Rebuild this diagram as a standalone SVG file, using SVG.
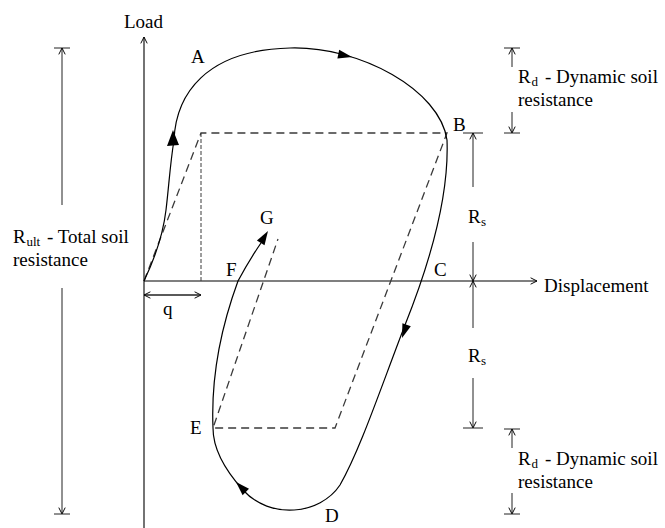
<svg xmlns="http://www.w3.org/2000/svg" width="665" height="528" viewBox="0 0 665 528">
<style>
text{font-family:"Liberation Serif","Times New Roman",serif;font-size:19px;fill:#000}
text.sub{font-size:13px}
.ax{stroke:#000;stroke-width:1.1;fill:none}
.dim{stroke:#222;stroke-width:1;fill:none}
.dash{stroke:#3a3a3a;stroke-width:1.3;fill:none;stroke-dasharray:8 5}
.fdash{stroke:#3a3a3a;stroke-width:1;fill:none;stroke-dasharray:4 2}
.curve{stroke:#000;stroke-width:1.2;fill:none}
.ah{fill:#000}
</style>
<defs>
<marker id="open" viewBox="0 0 10 10" refX="9" refY="5" markerWidth="8" markerHeight="8" markerUnits="userSpaceOnUse" orient="auto">
<path d="M1,1 L9,5 L1,9" fill="none" stroke="#000" stroke-width="1.2"/>
</marker>
</defs>
<g id="axes">
<line class="ax" x1="144" y1="528" x2="144" y2="37" marker-end="url(#open)"/>
<line class="ax" x1="144" y1="281" x2="537" y2="281" marker-end="url(#open)"/>
<text x="124" y="28">Load</text>
<text x="544" y="292">Displacement</text>
</g>
<g id="dashed-path">
<polyline class="dash" points="144,281 201,133 447,133 335,428 213,428 278,239"/>
<line class="fdash" x1="201" y1="133" x2="201" y2="281"/>
</g>
<g id="connectors">
<path class="curve" d="M144,281 C155,258 163,235 166,210 C169,185 170,165 174,140 C176,95 205,50 290,48 C360,46 440,90 447,140 C449,190 435,250 405,325 C380,390 360,450 340,485 C320,515 270,520 243,490 C225,470 213,450 213,428 C211,380 220,330 238,281 C245,268 252,256 261,243"/>
<polygon class="ah" points="173,130 167,146 179,145"/>
<polygon class="ah" points="352,57 337.4,58.6 339.2,49.8"/>
<polygon class="ah" points="402,338 410.8,326.3 402.4,323.3"/>
<polygon class="ah" points="236,482 249,488.8 242.6,495.2"/>
<polygon class="ah" points="268,231 264.5,245.2 256.9,240.6"/>
</g>
<g id="labels">
<text x="191" y="63">A</text>
<text x="453" y="131">B</text>
<text x="434" y="276">C</text>
<text x="325" y="522">D</text>
<text x="190" y="434">E</text>
<text x="226" y="276">F</text>
<text x="260" y="224">G</text>
</g>
<g id="q-dim">
<line class="dim" x1="144" y1="295" x2="201" y2="295" marker-end="url(#open)"/>
<line class="dim" x1="201" y1="295" x2="144" y2="295" marker-end="url(#open)"/>
<text x="163" y="315">q</text>
</g>
<g id="rult-dim">
<line class="dim" x1="54" y1="48" x2="70" y2="48"/>
<line class="dim" x1="62" y1="205" x2="62" y2="48" marker-end="url(#open)"/>
<line class="dim" x1="62" y1="288" x2="62" y2="514" marker-end="url(#open)"/>
<line class="dim" x1="54" y1="514" x2="70" y2="514"/>
<text x="13" y="243">R</text>
<text class="sub" x="26.5" y="246">ult</text>
<text x="47" y="243">- Total soil</text>
<text x="13" y="266">resistance</text>
</g>
<g id="rs-dim">
<line class="dim" x1="463" y1="133" x2="483" y2="133"/>
<line class="dim" x1="473" y1="187" x2="473" y2="133" marker-end="url(#open)"/>
<line class="dim" x1="473" y1="242" x2="473" y2="281" marker-end="url(#open)"/>
<line class="dim" x1="473" y1="328" x2="473" y2="281" marker-end="url(#open)"/>
<line class="dim" x1="473" y1="378" x2="473" y2="428" marker-end="url(#open)"/>
<line class="dim" x1="463" y1="428" x2="483" y2="428"/>
<text x="468" y="223">R</text>
<text class="sub" x="481" y="226">s</text>
<text x="468" y="362">R</text>
<text class="sub" x="481" y="365">s</text>
</g>
<g id="rd-top">
<line class="dim" x1="504" y1="48" x2="520" y2="48"/>
<line class="dim" x1="512" y1="67" x2="512" y2="48" marker-end="url(#open)"/>
<line class="dim" x1="512" y1="112" x2="512" y2="133" marker-end="url(#open)"/>
<line class="dim" x1="504" y1="133" x2="520" y2="133"/>
<text x="518" y="83">R</text>
<text class="sub" x="531.5" y="86">d</text>
<text x="545" y="83">- Dynamic soil</text>
<text x="518" y="106">resistance</text>
</g>
<g id="rd-bottom">
<line class="dim" x1="504" y1="429" x2="520" y2="429"/>
<line class="dim" x1="512" y1="448" x2="512" y2="429" marker-end="url(#open)"/>
<line class="dim" x1="512" y1="493" x2="512" y2="514" marker-end="url(#open)"/>
<line class="dim" x1="504" y1="514" x2="520" y2="514"/>
<text x="518" y="465">R</text>
<text class="sub" x="531.5" y="468">d</text>
<text x="545" y="465">- Dynamic soil</text>
<text x="518" y="488">resistance</text>
</g>
</svg>
